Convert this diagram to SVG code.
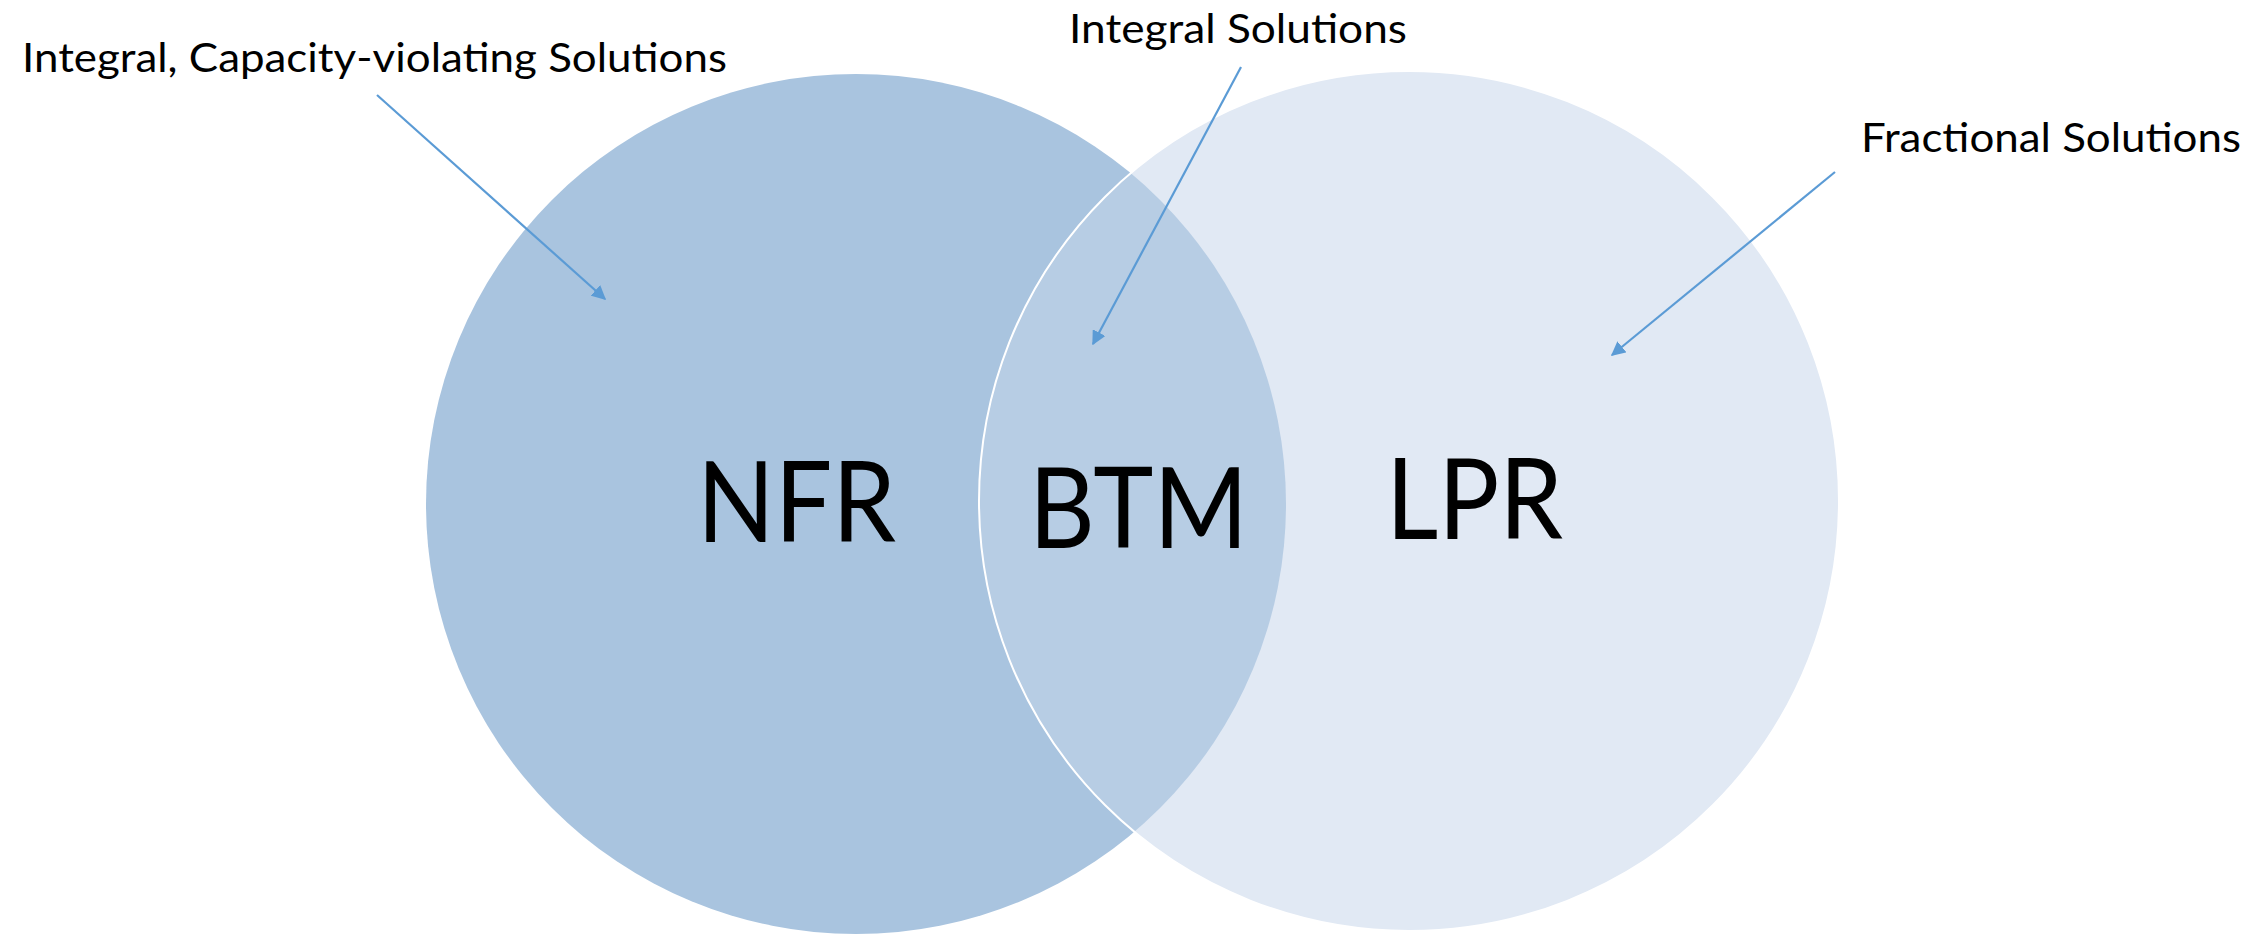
<svg xmlns="http://www.w3.org/2000/svg" width="2260" height="936" viewBox="0 0 2260 936">
  <style>
    .lbl { font-family: Lato, "Open Sans", "Liberation Sans", sans-serif; fill: #000000; }
    .note { font-size: 41px; }
    .big { font-size: 113px; }
    .conn { stroke: #5B9BD5; stroke-width: 2.2; fill: none; marker-end: url(#tri); }
  </style>
  <defs>
    <marker id="tri" viewBox="0 0 10 10" refX="9" refY="5" markerWidth="6.5" markerHeight="6.5" markerUnits="strokeWidth" orient="auto">
      <path d="M0,0 L10,5 L0,10 Z" fill="#5B9BD5"/>
    </marker>
    <clipPath id="leftClip">
      <circle cx="856" cy="504" r="430"/>
    </clipPath>
  </defs>
  <rect width="2260" height="936" fill="#FFFFFF"/>

  <g id="nfr">
    <circle cx="856" cy="504" r="430" fill="#A9C4DF"/>
  </g>
  <g id="lpr">
    <circle cx="1409" cy="501" r="430" fill="#E1E9F4"/>
    <text class="lbl big" x="1386" y="539" textLength="177" lengthAdjust="spacingAndGlyphs">LPR</text>
  </g>
  <g id="btm">
    <circle cx="1409" cy="501" r="430" fill="#B7CDE4" clip-path="url(#leftClip)"/>
    <circle cx="1409" cy="501" r="430" fill="none" stroke="#FFFFFF" stroke-width="2"/>
    <text class="lbl big" x="1029" y="548" textLength="219" lengthAdjust="spacingAndGlyphs">BTM</text>
  </g>
  <g id="nfr-label">
    <text class="lbl big" x="697" y="542" textLength="199" lengthAdjust="spacingAndGlyphs">NFR</text>
  </g>

  <g id="note-violating">
    <text class="lbl note" x="22" y="72" textLength="705" lengthAdjust="spacingAndGlyphs">Integral, Capacity-violating Solutions</text>
  </g>
  <g id="note-integral">
    <text class="lbl note" x="1069" y="43" textLength="338" lengthAdjust="spacingAndGlyphs">Integral Solutions</text>
  </g>
  <g id="note-fractional">
    <text class="lbl note" x="1861" y="152" textLength="380" lengthAdjust="spacingAndGlyphs">Fractional Solutions</text>
  </g>

  <g id="connectors">
    <line class="conn" x1="377" y1="95" x2="605" y2="299"/>
    <line class="conn" x1="1241" y1="67" x2="1093" y2="344"/>
    <line class="conn" x1="1835" y1="172" x2="1612" y2="355"/>
  </g>
</svg>
